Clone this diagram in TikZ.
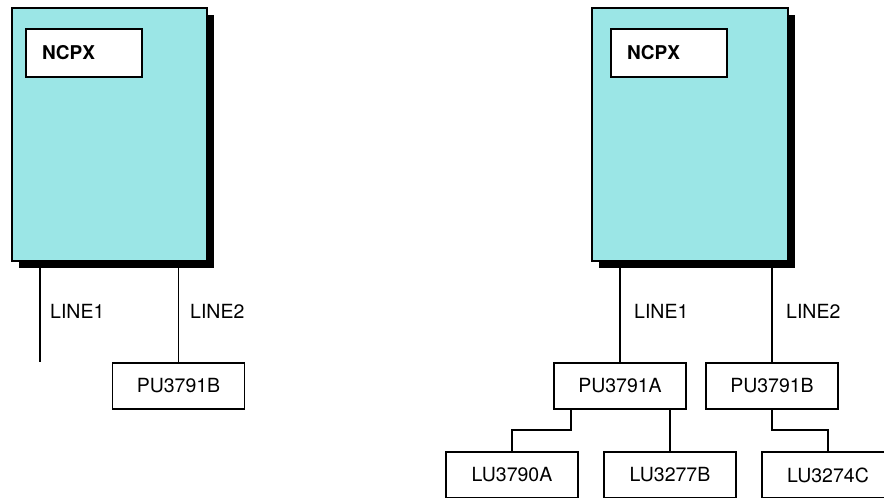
\documentclass[tikz,border=0pt]{standalone}
\usepackage{fontspec}
\setmainfont{TeX Gyre Heros}
\usetikzlibrary{shadows}
\definecolor{ncpxcyan}{RGB}{155,230,230}
\tikzset{
  nodebox/.style={draw, line width=1.8pt, fill=ncpxcyan, inner sep=0pt,
    drop shadow={shadow xshift=7pt, shadow yshift=-7pt, fill=black, opacity=1}},
  ncpxbox/.style={draw, line width=1.8pt, fill=white, minimum width=116pt,
    minimum height=48pt, inner xsep=16pt, inner ysep=0pt, text width=84pt,
    align=left, font=\bfseries\fontsize{19}{22}\selectfont},
  unitbox/.style={draw, line width=1.8pt, fill=white, minimum width=132pt,
    minimum height=46pt, inner sep=0pt, font=\fontsize{19.5}{22}\selectfont},
  linelabel/.style={anchor=west, inner sep=0pt, font=\fontsize{19.5}{22}\selectfont},
  wire/.style={line width=1.8pt}
}
\begin{document}
\begin{tikzpicture}[x=1pt, y=-1pt]
  \clip (0,0) rectangle (884,498);

  % NCPX a sinistra
  \node[nodebox, minimum width=195pt, minimum height=253pt] (ncpxL) at (109.5,134.5) {};
  \node[ncpxbox] (ncpxLlab) at (84,53) {NCPX};
  \node[unitbox] (puLB) at (178.5,386) {PU3791B};
  \coordinate (endL1) at (40,362);

  % Linee a sinistra
  \draw[wire] (ncpxL.south -| endL1) -- (endL1);
  \draw[wire] (ncpxL.south -| puLB.north) -- (puLB.north);
  \node[linelabel] (l1L) at (50,311) {LINE1};
  \node[linelabel] (l2L) at (190,311) {LINE2};

  % NCPX a destra
  \node[nodebox, minimum width=196pt, minimum height=253pt] (ncpxR) at (690,134.5) {};
  \node[ncpxbox] (ncpxRlab) at (669,53) {NCPX};
  \node[unitbox] (puRA) at (620,386) {PU3791A};
  \node[unitbox] (puRB) at (772,386) {PU3791B};
  \node[unitbox] (luA) at (512,475) {LU3790A};
  \node[unitbox] (luB) at (670,475) {LU3277B};
  \node[unitbox] (luC) at (828,475) {LU3274C};

  % Linee a destra
  \draw[wire] (ncpxR.south -| puRA.north) -- (puRA.north);
  \draw[wire] (ncpxR.south -| puRB.north) -- (puRB.north);
  \node[linelabel] (l1R) at (634,311) {LINE1};
  \node[linelabel] (l2R) at (786,311) {LINE2};

  % Collegamenti ai LU
  \draw[wire] ([xshift=-49pt]puRA.south) -- ++(0,20) -| (luA.north);
  \draw[wire] (puRA.south -| luB.north) -- (luB.north);
  \draw[wire] (puRB.south) -- ++(0,20) -| (luC.north);
\end{tikzpicture}
\end{document}
